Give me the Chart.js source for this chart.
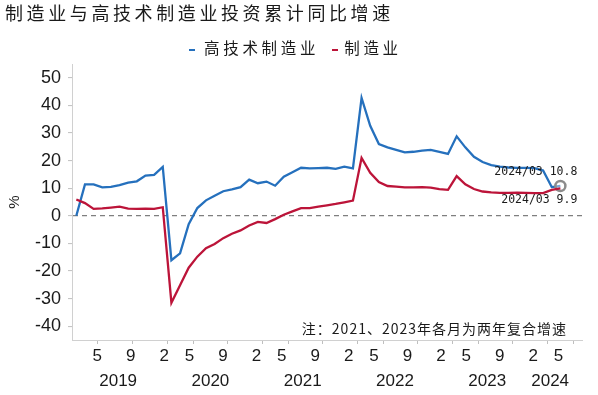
<!DOCTYPE html>
<html lang="zh-CN">
<head>
<meta charset="utf-8">
<script src="https://cdn.jsdelivr.net/npm/chart.js@4/dist/chart.umd.min.js"></script>
<style>
  html, body { margin: 0; padding: 0; background: #fff; }
  #wrap { position: relative; width: 598px; height: 395px; }
  #chart { position: absolute; left: 0; top: 0; }
  #title { position: absolute; left: 5px; top: 3px; font: 18px/18px "Noto Sans CJK SC"; letter-spacing: 3.6px; color: #1a1a1a; white-space: nowrap; }
  #legend { position: absolute; left: 189px; top: 39px; font: 15.5px/17px "Noto Sans CJK SC"; letter-spacing: 3.7px; color: #1a1a1a; white-space: nowrap; }
  .mk { display: inline-block; width: 6px; height: 2.5px; vertical-align: middle; }
</style>
</head>
<body>
<div id="wrap">
  <canvas id="chart" width="598" height="395"></canvas>
  <div id="title">制造业与高技术制造业投资累计同比增速</div>
  <div id="legend"><span class="mk" style="background:#2570bd;margin-right:9px"></span>高技术制造业<span class="mk" style="background:#bc1439;margin-left:13px;margin-right:6px"></span>制造业</div>
</div>
<script>
// monthly cumulative data, January is merged into February
const periods = [
    '2019/02', '2019/03', '2019/04', '2019/05', '2019/06', '2019/07', '2019/08', '2019/09', '2019/10', '2019/11', '2019/12',
    '2020/02', '2020/03', '2020/04', '2020/05', '2020/06', '2020/07', '2020/08', '2020/09', '2020/10', '2020/11', '2020/12',
    '2021/02', '2021/03', '2021/04', '2021/05', '2021/06', '2021/07', '2021/08', '2021/09', '2021/10', '2021/11', '2021/12',
    '2022/02', '2022/03', '2022/04', '2022/05', '2022/06', '2022/07', '2022/08', '2022/09', '2022/10', '2022/11', '2022/12',
    '2023/02', '2023/03', '2023/04', '2023/05', '2023/06', '2023/07', '2023/08', '2023/09', '2023/10', '2023/11', '2023/12',
    '2024/02', '2024/03'
];

const highTech = [
    0.0, 11.4, 11.4, 10.3, 10.5, 11.1, 12.0, 12.5, 14.6, 14.8, 17.7,
    -16.1, -13.6, -3.0, 2.8, 5.6, 7.3, 8.9, 9.6, 10.4, 13.1, 11.8,
    12.4, 10.9, 14.2, 15.8, 17.4, 17.2, 17.3, 17.4, 17.0, 17.8, 17.2,
    42.7, 32.6, 26.0, 24.8, 23.9, 23.0, 23.2, 23.6, 23.9, 23.2, 22.4,
    28.8, 24.8, 21.4, 19.5, 18.4, 17.8, 17.5, 17.4, 17.4, 17.3, 16.4,
    10.4, 10.8
];

const manufacturing = [
    5.9, 4.6, 2.5, 2.7, 3.0, 3.3, 2.6, 2.5, 2.6, 2.5, 3.1,
    -31.5, -25.2, -18.8, -14.8, -11.7, -10.2, -8.1, -6.5, -5.3, -3.5, -2.2,
    -2.6, -1.2, 0.4, 1.6, 2.8, 2.8, 3.3, 3.8, 4.3, 4.9, 5.5,
    21.0, 15.6, 12.2, 10.8, 10.6, 10.3, 10.3, 10.4, 10.2, 9.7, 9.4,
    14.4, 11.4, 9.7, 8.8, 8.5, 8.3, 8.3, 8.4, 8.3, 8.2, 8.2,
    9.4, 9.9
];

const yTicks = [-40, -30, -20, -10, 0, 10, 20, 30, 40, 50];

// the axis runs two months past the data
const axisPeriods = periods.concat(['2024/04', '2024/05']);
const labelledMonths = [2, 5, 9];
const noteText = '注：2021、2023年各月为两年复合增速';

const BLUE = '#2570bd';
const RED = '#bc1439';
const AXIS_GREY = '#d0d0d0';
const tickFont = { family: 'Liberation Sans', size: 17 };

const monthOf = p => parseInt(p.slice(5), 10);
// first Feb sits on the axis edge and is not labelled
const monthIdx = axisPeriods.map((p, i) => i)
    .filter(i => i > 0 && labelledMonths.includes(monthOf(axisPeriods[i])));
const monthLabels = monthIdx.map(i => String(monthOf(axisPeriods[i])));

const years = [...new Set(axisPeriods.map(p => p.slice(0, 4)))];
const yearPos = years.map(y => {
    const idx = axisPeriods.map((p, i) => i).filter(i => axisPeriods[i].startsWith(y));
    return (idx[0] + idx[idx.length - 1]) / 2 + 0.5;
});

const last = periods.length - 1;

const endLabels = {
    id: 'endLabels',
    afterDatasetsDraw(chart) {
        const { ctx, chartArea } = chart;
        const x = chart.scales.x;
        const y = chart.scales.y;
        const px = x.getPixelForValue(last);
        ctx.save();
        ctx.fillStyle = '#1a1a1a';
        ctx.textAlign = 'right';
        ctx.textBaseline = 'middle';
        ctx.font = '11.5px "DejaVu Sans Mono"';
        ctx.fillText(periods[last] + ' ' + highTech[last].toFixed(1), px + 17, y.getPixelForValue(highTech[last]) - 14);
        ctx.fillText(periods[last] + ' ' + manufacturing[last].toFixed(1), px + 17, y.getPixelForValue(manufacturing[last]) + 12);

        ctx.font = '14px "Noto Sans CJK SC"';
        ctx.letterSpacing = '1px';
        ctx.fillText(noteText, chartArea.right - 15, chartArea.bottom - 11);
        ctx.restore();
    }
};

new Chart(document.getElementById('chart'), {
    type: 'line',
    data: {
        datasets: [{
            label: '高技术制造业',
            data: highTech.map((v, i) => ({ x: i, y: v })),
            borderColor: BLUE,
            borderWidth: 2.3,
            order: 1,
            pointRadius: ctx => ctx.dataIndex === last ? 5 : 0,
            pointBorderColor: '#8c8c8c',
            pointBorderWidth: 2.5,
            pointBackgroundColor: 'rgba(255,255,255,0.4)',
            xAxisID: 'x',
            yAxisID: 'y'
        }, {
            label: '制造业',
            data: manufacturing.map((v, i) => ({ x: i, y: v })),
            borderColor: RED,
            borderWidth: 2.3,
            order: 0,
            pointRadius: 0,
            xAxisID: 'x',
            yAxisID: 'y'
        }]
    },
    options: {
        responsive: false,
        animation: false,
        layout: { padding: { top: 64, right: 16, bottom: 0, left: 0 } },
        plugins: {
            legend: { display: false },
            tooltip: { enabled: false }
        },
        scales: {
            x: {
                type: 'linear',
                axis: 'x',
                position: 'bottom',
                weight: 0,
                min: -0.5,
                max: axisPeriods.length - 0.5,
                afterBuildTicks: s => { s.ticks = monthIdx.map(i => ({ value: i - 0.5 })); },
                ticks: { display: false },
                grid: { drawOnChartArea: false, tickLength: 4, tickColor: '#bfbfbf', tickWidth: 1 },
                border: { color: AXIS_GREY },
                afterFit: s => { s.height = 4; s.paddingLeft = 0; s.paddingRight = 0; }
            },
            month: {
                type: 'linear',
                axis: 'x',
                position: 'bottom',
                weight: 1,
                // labels in the source sit on a slightly compressed scale
                min: 0,
                max: 60.8,
                afterBuildTicks: s => { s.ticks = monthIdx.map(i => ({ value: i })); },
                ticks: {
                    font: tickFont,
                    color: '#1a1a1a',
                    padding: 2.5,
                    autoSkip: false,
                    maxRotation: 0,
                    callback: (v, i) => monthLabels[i]
                },
                grid: { display: false, drawTicks: false },
                border: { display: false },
                afterFit: s => { s.height = 26; s.paddingLeft = 0; s.paddingRight = 0; }
            },
            year: {
                type: 'linear',
                axis: 'x',
                position: 'bottom',
                weight: 2,
                min: 0,
                max: 60.8,
                afterBuildTicks: s => { s.ticks = yearPos.map(v => ({ value: v })); },
                ticks: {
                    font: tickFont,
                    color: '#1a1a1a',
                    padding: 1.5,
                    autoSkip: false,
                    maxRotation: 0,
                    callback: (v, i) => years[i]
                },
                grid: { display: false, drawTicks: false },
                border: { display: false },
                afterFit: s => { s.height = 25; s.paddingLeft = 0; s.paddingRight = 0; }
            },
            y: {
                min: -45,
                max: 55,
                afterBuildTicks: s => { s.ticks = yTicks.map(v => ({ value: v })); },
                ticks: {
                    font: { family: 'Liberation Sans', size: 18 },
                    color: '#1a1a1a',
                    padding: 7
                },
                grid: {
                    color: c => c.tick && c.tick.value === 0 ? '#7f7f7f' : 'rgba(0,0,0,0)',
                    lineWidth: 1.2,
                    tickColor: '#bfbfbf',
                    tickWidth: 1,
                    tickLength: 4
                },
                border: { color: AXIS_GREY, dash: [5, 4] },
                title: {
                    display: true,
                    text: '%',
                    color: '#1a1a1a',
                    font: { family: 'Liberation Sans', size: 15 },
                    padding: { top: 6, bottom: 0 }
                },
                afterFit: s => { s.width = 72; }
            }
        }
    },
    plugins: [endLabels]
});
</script>
</body>
</html>
